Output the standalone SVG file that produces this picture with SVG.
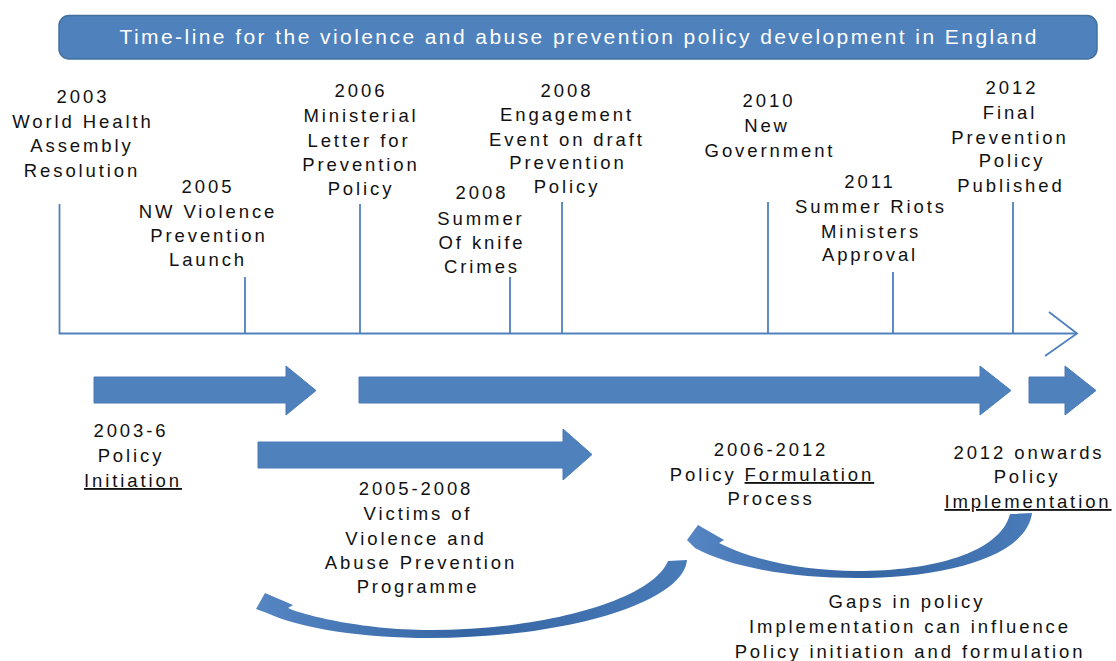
<svg xmlns="http://www.w3.org/2000/svg" width="1116" height="661" viewBox="0 0 1116 661">
<defs>
<style>
.t{font-family:"Liberation Sans",Arial,sans-serif;font-size:18.5px;fill:#111;text-anchor:middle;letter-spacing:2.9px}
.tick{stroke:#4F81BD;stroke-width:1.8;fill:none}
.blk{fill:#4F81BD;stroke:#4A7BB6;stroke-width:1}
.crv{fill:url(#cg)}
.u{text-decoration:underline}
</style>
<linearGradient id="cg" x1="0" y1="0" x2="1" y2="0">
<stop offset="0" stop-color="#5585C2"/>
<stop offset="0.5" stop-color="#3566A3"/>
<stop offset="1" stop-color="#4A7BB9"/>
</linearGradient>
</defs>
<rect width="1116" height="661" fill="#fff"/>

<g id="title">
<rect x="59" y="15.5" width="1038" height="43.5" rx="10" fill="#4F81BD" stroke="#41719C" stroke-width="1.5"/>
<text x="578" y="43.5" font-family="'Liberation Sans',Arial,sans-serif" font-size="21" fill="#fff" text-anchor="middle" textLength="917" lengthAdjust="spacing">Time-line for the violence and abuse prevention policy development in England</text>
</g>

<g id="connectors">
<path class="tick" d="M59.5,204 V333.5 H1077"/>
<path class="tick" d="M1049,312 L1077,333.5 L1045,356"/>
<path class="tick" d="M245,277 V333.5 M360,204 V333.5 M510,277 V333.5 M562,202 V333.5 M768,202 V333.5 M893,272 V333.5 M1013,202 V333.5"/>
<path class="blk" d="M94,377 H286 V366 L316,390.5 L286,415 V403 H94 Z"/>
<path class="blk" d="M359,377 H980 V366 L1011,390.5 L980,415 V403 H359 Z"/>
<path class="blk" d="M1029,377 H1065 V366 L1096,390.5 L1065,415 V403 H1029 Z"/>
<path class="blk" d="M258,442 H563 V429 L592,454.5 L563,480 V468 H258 Z"/>
<path class="crv" d="M687,560 C683,603 565,638 430,638 C360,638 300,628 267,613 L256,609 L265,593 L293,605 L288,608 C300,614 360,630 430,630 C545,630 652,600 668,561 Z"/>
<path class="crv" d="M1032,513 C1026,558 942,578 857,578 C790,578 730,567 695,548 L687,540 L698,525 L724,540 L719,543 C750,559 800,571 857,571 C932,571 1000,553 1010,514 Z"/>
</g>

<g id="ev2003">
<text class="t" x="83" y="103">2003</text>
<text class="t" x="83" y="128">World Health</text>
<text class="t" x="82" y="152">Assembly</text>
<text class="t" x="82" y="177">Resolution</text>
</g>
<g id="ev2005">
<text class="t" x="208" y="193">2005</text>
<text class="t" x="208" y="218">NW Violence</text>
<text class="t" x="209" y="242">Prevention</text>
<text class="t" x="208" y="266">Launch</text>
</g>
<g id="ev2006">
<text class="t" x="361" y="97">2006</text>
<text class="t" x="361" y="122">Ministerial</text>
<text class="t" x="359" y="147">Letter for</text>
<text class="t" x="361" y="171">Prevention</text>
<text class="t" x="361" y="195">Policy</text>
</g>
<g id="ev2008a">
<text class="t" x="482" y="199">2008</text>
<text class="t" x="481" y="225">Summer</text>
<text class="t" x="482" y="249">Of knife</text>
<text class="t" x="482" y="273">Crimes</text>
</g>
<g id="ev2008b">
<text class="t" x="567" y="97">2008</text>
<text class="t" x="567" y="121">Engagement</text>
<text class="t" x="567" y="146">Event on draft</text>
<text class="t" x="568" y="169">Prevention</text>
<text class="t" x="567" y="193">Policy</text>
</g>
<g id="ev2010">
<text class="t" x="769" y="107">2010</text>
<text class="t" x="767" y="132">New</text>
<text class="t" x="770" y="157">Government</text>
</g>
<g id="ev2011">
<text class="t" x="870" y="188">2011</text>
<text class="t" x="871" y="213">Summer Riots</text>
<text class="t" x="871" y="238">Ministers</text>
<text class="t" x="870" y="261">Approval</text>
</g>
<g id="ev2012">
<text class="t" x="1012" y="94">2012</text>
<text class="t" x="1010" y="119">Final</text>
<text class="t" x="1010" y="144">Prevention</text>
<text class="t" x="1012" y="167">Policy</text>
<text class="t" x="1011" y="192">Published</text>
</g>

<g id="phase-initiation">
<text class="t" x="131" y="437">2003-6</text>
<text class="t" x="131" y="462">Policy</text>
<text class="t" x="133" y="487"><tspan class="u">Initiation</tspan></text>
</g>
<g id="phase-programme">
<text class="t" x="416" y="495">2005-2008</text>
<text class="t" x="418" y="520">Victims of</text>
<text class="t" x="416" y="545">Violence and</text>
<text class="t" x="421" y="569">Abuse Prevention</text>
<text class="t" x="418" y="593">Programme</text>
</g>
<g id="phase-formulation">
<text class="t" x="771" y="456">2006-2012</text>
<text class="t" x="772" y="481">Policy <tspan class="u">Formulation</tspan></text>
<text class="t" x="771" y="505">Process</text>
</g>
<g id="phase-implementation">
<text class="t" x="1029" y="459">2012 onwards</text>
<text class="t" x="1027" y="483">Policy</text>
<text class="t" x="1028" y="508"><tspan class="u">Implementation</tspan></text>
</g>
<g id="note-gaps">
<text class="t" x="907" y="608">Gaps in policy</text>
<text class="t" x="910" y="633">Implementation can influence</text>
<text class="t" x="910" y="658">Policy initiation and formulation</text>
</g>
</svg>
